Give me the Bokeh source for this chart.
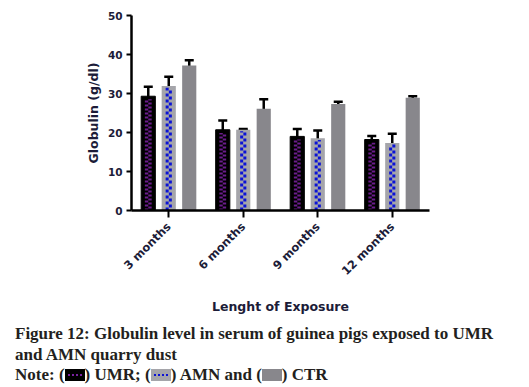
from bokeh.plotting import figure
from bokeh.models import (ColumnDataSource, FactorRange, FixedTicker, Whisker, TeeHead, Div)
from bokeh.transform import dodge
from bokeh.layouts import column
from bokeh.embed import file_html
from bokeh.resources import INLINE
import math

categories = ["3 months", "6 months", "9 months", "12 months"]
umr = [29.3, 20.7, 19.0, 18.2]
umr_err = [2.4, 2.4, 1.9, 0.9]
amn = [31.9, 20.7, 18.5, 17.3]
amn_err = [2.4, 0.2, 2.0, 2.4]
ctr = [37.2, 26.1, 27.3, 28.9]
ctr_err = [1.3, 2.4, 0.6, 0.4]
y_ticks = [0, 10, 20, 30, 40, 50]

src = ColumnDataSource(dict(
    cat=categories,
    umr=umr, amn=amn, ctr=ctr,
    umr_hi=[v + e for v, e in zip(umr, umr_err)], umr_lo=[v - e for v, e in zip(umr, umr_err)],
    amn_hi=[v + e for v, e in zip(amn, amn_err)], amn_lo=[v - e for v, e in zip(amn, amn_err)],
    ctr_hi=[v + e for v, e in zip(ctr, ctr_err)], ctr_lo=[v - e for v, e in zip(ctr, ctr_err)],
    zero=[0] * len(categories),
    umr_in=[v - 0.8 for v in umr], amn_in=[v - 0.4 for v in amn],
))

TXT = "#1c1c38"
p = figure(x_range=FactorRange(*categories, range_padding=0), y_range=(0, 50),
           width=521, height=316, output_backend="svg", toolbar_location=None,
           min_border_left=131, min_border_right=92, min_border_top=15, min_border_bottom=103)
p.outline_line_color = None
p.grid.grid_line_color = None
p.background_fill_color = "white"

off, bw = 0.275, 0.19
px = 1 / 74.5
# UMR
p.vbar(x=dodge("cat", -off, range=p.x_range), top="umr", width=bw, source=src,
       fill_color="black", line_color="black")
p.segment(x0=dodge("cat", -off - 1.7 * px, range=p.x_range), y0="zero",
          x1=dodge("cat", -off - 1.7 * px, range=p.x_range), y1="umr_in", source=src,
          line_color="#6b1d8c", line_width=3.4, line_dash="2 2")
p.segment(x0=dodge("cat", -off + 1.7 * px, range=p.x_range), y0="zero",
          x1=dodge("cat", -off + 1.7 * px, range=p.x_range), y1="umr_in", source=src,
          line_color="#6b1d8c", line_width=3.4, line_dash="2 2", line_dash_offset=2)
# AMN
p.vbar(x=dodge("cat", 0, range=p.x_range), top="amn", width=bw, source=src,
       fill_color="#a5a5aa", line_color=None)
p.segment(x0=dodge("cat", -1.6 * px, range=p.x_range), y0="zero",
          x1=dodge("cat", -1.6 * px, range=p.x_range), y1="amn_in", source=src,
          line_color="#0b12d6", line_width=3, line_dash="3 3")
p.segment(x0=dodge("cat", 1.6 * px, range=p.x_range), y0="zero",
          x1=dodge("cat", 1.6 * px, range=p.x_range), y1="amn_in", source=src,
          line_color="#0b12d6", line_width=3, line_dash="3 3", line_dash_offset=3)
# CTR
p.vbar(x=dodge("cat", off, range=p.x_range), top="ctr", width=bw, source=src,
       fill_color="#88878c", line_color=None)

for k, o in (("umr", -off), ("amn", 0), ("ctr", off)):
    w = Whisker(base=dodge("cat", o, range=p.x_range), upper=k + "_hi", lower=k + "_lo",
                source=src, line_color="black", line_width=2.5,
                upper_head=TeeHead(size=9, line_width=2.5, line_color="black"),
                lower_head=TeeHead(size=9, line_width=2.5, line_color="black"))
    p.add_layout(w)

p.yaxis.ticker = FixedTicker(ticks=y_ticks)
p.yaxis.minor_tick_line_color = None
for ax in (p.xaxis[0], p.yaxis[0]):
    ax.axis_line_width = 2.5
    ax.major_tick_line_width = 2
    ax.major_tick_in = 0
    ax.major_label_text_font = "DejaVu Sans"
    ax.major_label_text_font_style = "bold"
    ax.major_label_text_color = TXT
    ax.axis_label_text_font = "DejaVu Sans"
    ax.axis_label_text_font_style = "bold"
    ax.axis_label_text_color = TXT
p.yaxis.major_tick_out = 5
p.yaxis.major_label_text_font_size = "10.5px"
p.yaxis.major_label_standoff = 4
p.yaxis.axis_label = "Globulin (g/dl)"
p.yaxis.axis_label_text_font_size = "12.5px"
p.yaxis.axis_label_standoff = 4
p.xaxis.major_tick_out = 7
p.xaxis.major_label_orientation = math.pi / 4
p.xaxis.major_label_text_font_size = "11.5px"
p.xaxis.major_label_standoff = 7
p.xaxis.axis_label = "Lenght of Exposure"
p.xaxis.axis_label_text_font_size = "12.5px"
p.xaxis.axis_label_standoff = 13

def swatch(bg, dash):
    return ('<span style="display:inline-block;width:20px;height:12px;background:%s;'
            'vertical-align:-1px;position:relative;">'
            '<span style="position:absolute;left:3px;right:3px;top:5px;height:2px;'
            'background:repeating-linear-gradient(90deg,%s 0 2px,transparent 2px 4px);"></span>'
            '</span>' % (bg, dash))

caption = Div(
    text=("Figure 12: Globulin level in serum of guinea pigs exposed to UMR<br>"
          "and AMN quarry dust<br>"
          "Note: (" + swatch("#000000", "#7a22a0") + ") UMR; ("
          + swatch("#a5a5aa", "#0b12d6") + ") AMN and ("
          + swatch("#88878c", "#88878c") + ") CTR"),
    width=521,
    styles={"font-family": "Liberation Serif", "font-weight": "bold",
            "font-size": "17px", "line-height": "20.6px", "color": "#231f20",
            "padding-left": "10px", "padding-top": "3px", "white-space": "nowrap"},
)

layout = column(p, caption, spacing=0)
open("out.html", "w").write(file_html(layout, INLINE))
